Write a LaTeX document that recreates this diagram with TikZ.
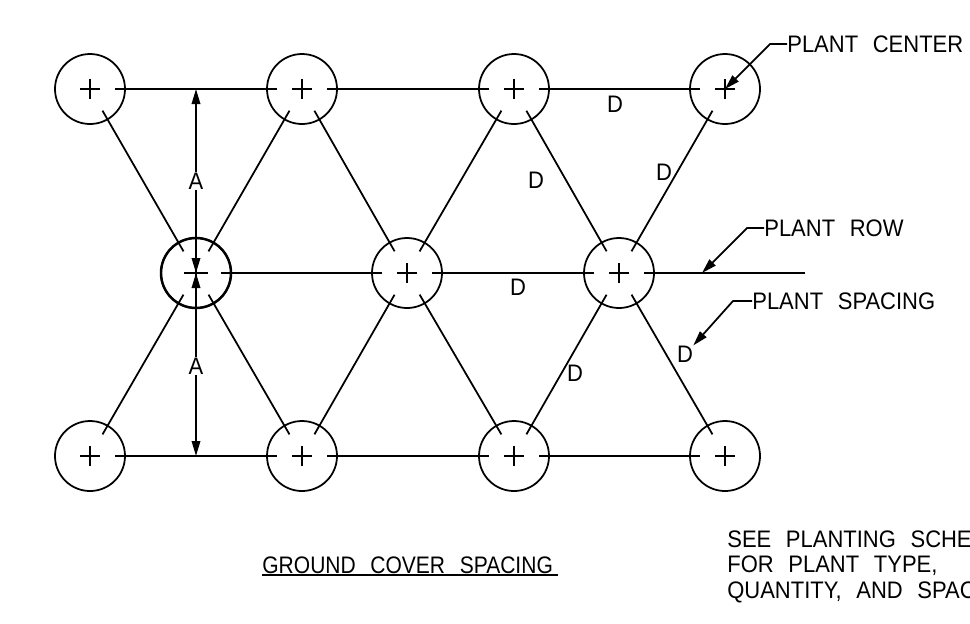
\documentclass[tikz,border=0pt]{standalone}
\usepackage{fontspec}
\setmainfont[FakeStretch=0.92,WordSpace=2.4]{Liberation Sans}
\newfontfamily\titlefont[FakeStretch=0.88,WordSpace=2.5]{Liberation Sans}
\usetikzlibrary{arrows.meta}
\tikzset{
  plant/.style={circle,draw,line width=1pt,minimum size=70*0.02cm,outer sep=-10*0.02cm,inner sep=0pt},
  link/.style={line width=1pt},
  leader/.style={line width=1pt,-{Triangle[length=15*0.02cm,width=8.5*0.02cm]}},
  dimstart/.style={line width=1pt,{Triangle[length=15*0.02cm,width=8.5*0.02cm]}-},
  dimend/.style={line width=1pt,-{Triangle[length=15*0.02cm,width=8.5*0.02cm]}},
  tag/.style={font=\fontsize{13.6pt}{16pt}\selectfont,inner sep=0pt},
  titletag/.style={font=\titlefont\fontsize{13.6pt}{16pt}\selectfont,inner sep=0pt}
}
\begin{document}
\begin{tikzpicture}[x=0.02cm,y=-0.02cm]
  \clip (0,0) rectangle (970,623);
  \useasboundingbox (0,0) rectangle (970,623);
  % plants
  \foreach \name/\px/\py/\arm in {a1/90/89/10,a2/302/89/10,a3/514/89/10,a4/725/89/10,
                             b1/196/273/12,b2/407/273/10,b3/619/273/10,
                             c1/90/456/10,c2/302/456/10,c3/514/456/10,c4/725/456/10}{
    \node[plant] (\name) at (\px,\py) {};
    \draw[link] (\name.center) +(-\arm,0) -- +(\arm,0) (\name.center) +(0,-\arm) -- +(0,\arm);
  }
  \node[plant,line width=1.4pt] (b1) at (196,273) {};
  % rows
  \draw[link] (a1) -- (a2);
  \draw[link] (a2) -- (a3);
  \draw[link] (a3) -- (a4);
  \draw[link] (b1) -- (b2);
  \draw[link] (b2) -- (b3);
  \draw[link] (c1) -- (c2);
  \draw[link] (c2) -- (c3);
  \draw[link] (c3) -- (c4);
  \coordinate (rowend) at (805,273);
  \draw[link] (b3) -- (rowend);
  % diagonals
  \foreach \from/\to in {a1/b1,a2/b1,a2/b2,a3/b2,a3/b3,a4/b3,
                         c1/b1,c2/b1,c2/b2,c3/b2,c3/b3,c4/b3}
    \draw[link] (\from) -- (\to);
  % dimensions
  \node[tag] (dimA) at (196,181) {A};
  \node[tag] (dimB) at (196,366) {A};
  \coordinate (topA) at (196,89);
  \coordinate (botA) at (196,456);
  \draw[dimstart] (topA) -- (dimA.north);
  \draw[dimend] (dimA.south) -- (b1.center);
  \draw[dimstart] (b1.center) -- (dimB.north);
  \draw[dimend] (dimB.south) -- (botA);
  % spacing labels
  \node[tag] (d1) at (615,104) {D};
  \node[tag] (d2) at (664,172) {D};
  \node[tag] (d3) at (536,180) {D};
  \node[tag] (d4) at (518,287) {D};
  \node[tag] (d5) at (685,354) {D};
  \node[tag] (d6) at (575,373) {D};
  % notes
  \node[tag,anchor=west] (center) at (787,44) {PLANT CENTER};
  \node[tag,anchor=west] (row) at (764,228) {PLANT ROW};
  \node[tag,anchor=west] (spacing) at (752,301) {PLANT SPACING};
  \coordinate (kneeC) at (770,44);
  \coordinate (kneeR) at (747,228);
  \coordinate (kneeS) at (733,301);
  \coordinate (tipR) at (702,273);
  \draw[leader] (center.west) -- (kneeC) -- (a4.center);
  \draw[leader] (row.west) -- (kneeR) -- (tipR);
  \draw[leader] (spacing.west) -- (kneeS) -- (d5.north east);
  \node[titletag,anchor=base west] (title) at (262,573) {GROUND COVER SPACING};
  \coordinate (titleend) at (558,575);
  \draw[link] (title.base west |- titleend) -- (titleend);
  \node[tag,anchor=base west] (see1) at (727,547) {SEE PLANTING SCHEDULE};
  \node[tag,anchor=base west] (see2) at (727,572) {FOR PLANT TYPE,};
  \node[tag,anchor=base west] (see3) at (727,598) {QUANTITY, AND SPACING};
\end{tikzpicture}
\end{document}
